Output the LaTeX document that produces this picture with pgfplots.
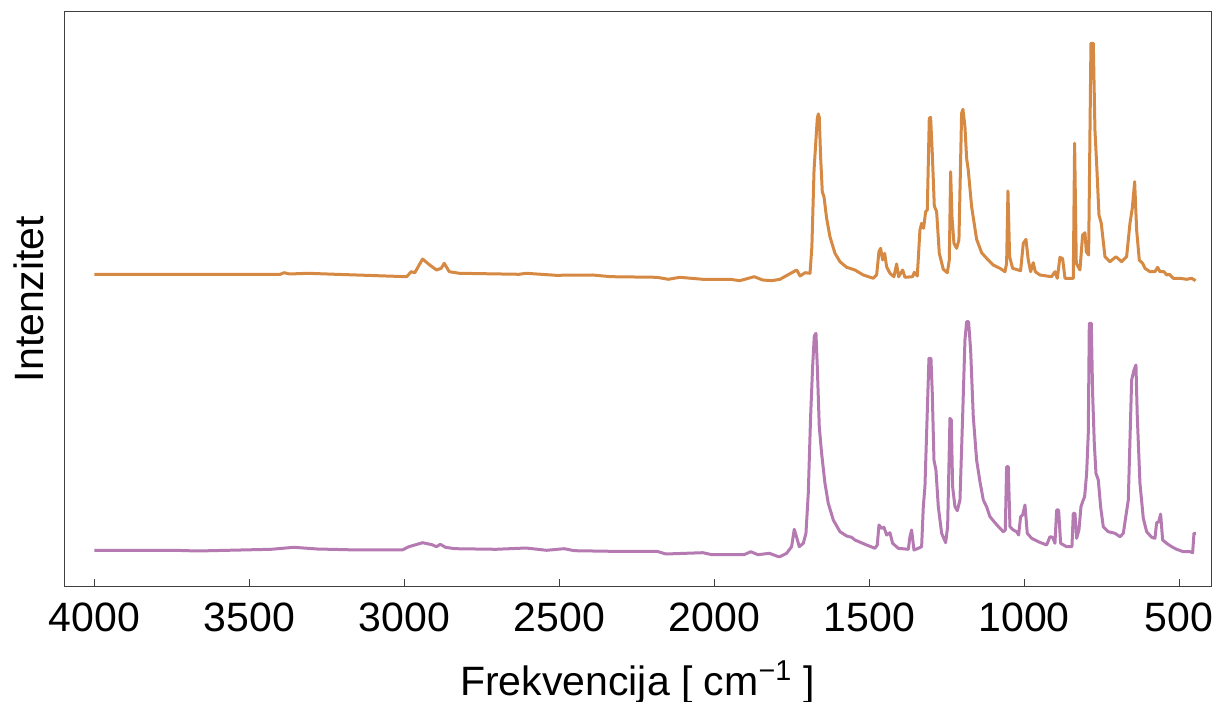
\documentclass[border=0pt]{standalone}
\usepackage{pgfplots}
\pgfplotsset{compat=1.18}
\usepackage{fontspec}
\setmainfont{Liberation Sans}
\definecolor{orangeline}{RGB}{214,137,66}
\definecolor{purpleline}{RGB}{182,122,178}
\begin{document}
\begin{tikzpicture}
\useasboundingbox (-32.15bp,-58bp) rectangle (577.35bp,293bp);
\begin{axis}[
  at={(0,0)}, anchor=south west,
  scale only axis, width=573.4bp, height=287bp,
  x dir=reverse, xmin=397, xmax=4097, ymin=0, ymax=574,
  xtick={500,1000,...,4000}, ytick=\empty,
  tick align=inside, xtick pos=left, major tick length=3.5bp,
  every tick/.style={black!75, line width=0.5bp},
  axis line style={black!75, line width=0.5bp},
  /pgf/number format/assume math mode=true,
  /pgf/number format/1000 sep={},
  tick label style={font=\fontsize{20.5bp}{24bp}\selectfont},
  xticklabel style={anchor=base, yshift=-22.5bp},
  label style={font=\fontsize{20.5bp}{24bp}\selectfont},
  xlabel={Frekvencija [ cm\textsuperscript{−1} ]},
  xlabel style={at={(axis description cs:0.5,0)}, anchor=base, yshift=-54.5bp},
  ylabel={Intenzitet},
  ylabel style={at={(axis description cs:-0.0183,0.5)}, anchor=base},
  every axis plot/.append style={line width=1.5bp, line join=round},
]
\addplot[orangeline] coordinates {
(4000,311.7) (3700,311.5) (3400,311.7) (3388,313.3) (3370,312) (3311,312.7) (3222,311.7) (2992,309.3) (2978,314.3) (2966,313.3) (2941,327) (2918,321) (2896,316) (2881,317.7) (2871,322.7) (2855,314.3) (2822,312.7) (2630,311.7) (2607,312.7) (2511,310.7) (2393,311) (2333,309.3) (2185,308.7) (2148,306.7) (2111,308.7) (2037,306.7) (1948,306.7) (1918,305.3) (1871,309.3) (1844,306) (1815,305.3)
(1788,306.7) (1734,316) (1723,310) (1707,313.3) (1691,312.7) (1685,339) (1678,416) (1667.5,467.7) (1664.3,472) (1661.1,468.7) (1656.8,429.3) (1651.4,394.3) (1646,389.3) (1637.4,367.7) (1626.7,349.3) (1610.5,332.7) (1594.4,324.3) (1572.9,318.7) (1546,316) (1519.1,311) (1486.9,307.7) (1476.1,311) (1468.6,334.3) (1463.2,337.7) (1456.7,326) (1450.3,332.7) (1443.8,319.3) (1433.1,312.7) (1420.2,309.3) (1411.6,322) (1405.1,309.3) (1392.2,316) (1384.7,308.7) (1360,309.3) (1354.6,313.7) (1344.9,310) (1336.3,356) (1330.9,362.7) (1324.5,357.7) (1318,374.3) (1312.6,376) (1306.2,467.7) (1301.9,468.7) (1296.5,432.7) (1290,380) (1282.5,374.3) (1273.9,332.7) (1261,316.7) (1248.1,313.3) (1241.6,326) (1237.3,414.3) (1233,369.3) (1226.6,342.7) (1218,337.7) (1210.5,346) (1201.9,472.7) (1197.6,476.7) (1191.1,459.3) (1185.7,427.7) (1180.4,416) (1169.6,379.3) (1153.5,346.7) (1137.3,333.3) (1121.2,327.7) (1099.7,321) (1078.2,317.7) (1062,314.3) (1056.7,322.7) (1052.4,395) (1047,329.3) (1037.3,317.7) (1011.5,315.3) (1002.9,342.7) (994.3,346.7) (986.8,326) (979.2,314.3) (970.6,323.3) (964.2,314.3) (949.1,311) (911.5,309.3) (900.7,314.3) (893.2,307.7) (884.6,328.7) (876,327.3) (868.4,307.7) (841.6,307.7) (837.3,442.7) (831.9,322.7) (820.1,316) (811.5,351) (803.9,353.3) (799.6,334.3) (792.1,331) (784.6,542.7) (777,542.7) (771.7,456) (766.3,422.7) (758.7,371) (751.3,362.7) (739.4,329.3) (723.3,324.3) (703.9,329.3) (685.6,324.3) (669.5,329.3) (658.7,362.7) (651.2,377.7) (643.6,404.3) (637.2,356) (628.6,326) (617.8,322.7) (610.3,317.7) (594.2,314.3) (578.1,314.3) (569.5,318.7) (561.9,314.3) (549,314.3) (540.4,311) (531.8,311.7) (518.9,307.7) (497.4,307.7) (475.9,306.7) (459.8,307.7) (446.9,305.3)
};
\addplot[purpleline] coordinates {
(4000,35.7) (3741,35.7) (3667,35) (3430,36.7) (3356,38.7) (3281,37) (3148,36) (3007,36) (2985,39.3) (2941,43.3) (2911,41.3) (2896,39.3) (2884,41.7) (2867,38.7) (2837,37.3) (2704,36.7) (2607,38) (2541,35.7) (2484,37.3) (2452,35.3) (2333,34.7) (2185,34.7) (2156,32) (2037,33.3) (2007,31.3) (1904,31.3) (1882,34.3) (1859,31.3) (1822,32.7) (1793,29.3)
(1788,29.3) (1766.5,32.7) (1750.4,39.3) (1741.8,56.7) (1734.2,48.7) (1725.6,39.3) (1712.7,42.7) (1704.1,52.7) (1696.6,92.7) (1689.1,169.3) (1682.6,219.3) (1677.2,250) (1671.8,252.7) (1667.5,219.3) (1661.1,159.3) (1653.6,132.7) (1642.8,102.7) (1632.1,82.7) (1615.9,66) (1594.4,54.3) (1572.9,50) (1556.8,48.7) (1546,46) (1508.4,41) (1481.5,37.7) (1474,41) (1468.6,61) (1460,57.7) (1452.4,58.7) (1443.8,51) (1433.1,53.3) (1424.5,42.7) (1406.2,37.7) (1373.9,36.7) (1368.6,49.3) (1363.2,56) (1355.6,36) (1341.7,37.7) (1330.9,39.3) (1325.5,79.3) (1320.2,99.3) (1314.8,152.7) (1307.3,227.7) (1300.8,227.7) (1296.5,192.7) (1291.1,126) (1284.7,116) (1277.1,79.3) (1266.4,52.7) (1253.5,43.3) (1247,59.3) (1239.5,167.7) (1235.2,166) (1230.9,99.3) (1223.4,79.3) (1215.8,75.3) (1207.2,86) (1198.6,169.3) (1191.1,246) (1185.7,264.3) (1179.3,264.3) (1172.8,236) (1164.2,169.3) (1153.5,126) (1142.7,104.3) (1131.9,86) (1121.2,79.3) (1110.4,69.3) (1094.3,63.3) (1078.2,57.7) (1067.4,54.3) (1061,56) (1056.7,119.3) (1051.3,119.3) (1045.9,59.3) (1035.2,56) (1024.4,54.3) (1018,51) (1011.5,69.3) (1005,71) (997.5,81) (990,52.7) (976,47.7) (954.5,44.3) (927.6,41) (916.8,49.3) (908.2,48.7) (900.7,42.7) (895.3,76) (888.9,76) (882.4,42.7) (863.1,39.3) (845.9,39.3) (841.6,72.7) (836.2,72.7) (830.8,47.7) (823.3,56) (816.8,79.3) (811.5,84.3) (805,89.3) (798.5,112.7) (793.2,152.7) (789.9,262.7) (783.5,262.7) (779.2,192.7) (773.8,142.7) (768.4,112.7) (760.9,106) (753.4,79.3) (744.8,59.3) (728.6,54.3) (707.1,52.7) (691,49.3) (680.2,52.7) (664.1,86) (653.3,206) (645.8,216) (639.4,221) (635.1,169.3) (626.5,102.7) (615.7,67.7) (604.9,54.3) (588.8,48.7) (578.1,47.7) (572.7,63.3) (566.2,64) (559.8,72) (553.3,46) (540.4,42.7) (524.3,39.3) (508.2,36.7) (486.6,34.3) (465.1,34.3) (456.5,33.3) (452.2,52.7) (445.8,52.7)
};
\end{axis}
\end{tikzpicture}
\end{document}
